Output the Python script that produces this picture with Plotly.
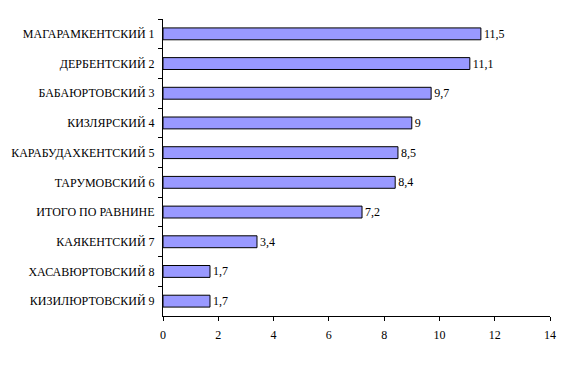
import plotly.graph_objects as go

categories = ["МАГАРАМКЕНТСКИЙ 1", "ДЕРБЕНТСКИЙ 2", "БАБАЮРТОВСКИЙ 3", "КИЗЛЯРСКИЙ 4",
              "КАРАБУДАХКЕНТСКИЙ 5", "ТАРУМОВСКИЙ 6", "ИТОГО ПО РАВНИНЕ",
              "КАЯКЕНТСКИЙ 7", "ХАСАВЮРТОВСКИЙ 8", "КИЗИЛЮРТОВСКИЙ 9"]
values = [11.5, 11.1, 9.7, 9, 8.5, 8.4, 7.2, 3.4, 1.7, 1.7]
x_ticks = [0, 2, 4, 6, 8, 10, 12, 14]

labels = [("%g" % v).replace(".", ",") for v in values]
font = dict(family="Liberation Serif", size=12, color="black")

fig = go.Figure(go.Bar(
    x=values, y=categories, orientation="h",
    marker=dict(color="#9999FF", line=dict(color="black", width=1)),
    text=labels, textposition="outside", textfont=font, cliponaxis=False,
    constraintext="none",
))
fig.update_layout(
    width=573, height=369,
    margin=dict(l=163, r=23, t=19, b=53),
    paper_bgcolor="white", plot_bgcolor="white",
    font=font, bargap=0.6, showlegend=False,
)
fig.update_xaxes(range=[0, 14], tickvals=x_ticks, showgrid=False, zeroline=False,
                 showline=True, linecolor="black", linewidth=1, automargin=False,
                 ticks="outside", ticklen=4, tickcolor="black", tickfont=font,
                 ticklabelstandoff=4)
fig.update_yaxes(autorange="reversed", showgrid=False, showline=True, linecolor="black",
                 linewidth=1, ticks="outside", ticklen=4, tickcolor="black", automargin=False,
                 tickson="boundaries", tickfont=font, ticklabelstandoff=5)
fig.write_html("out.html", post_script="document.body.style.margin='0';",
               config={"displayModeBar": False})
